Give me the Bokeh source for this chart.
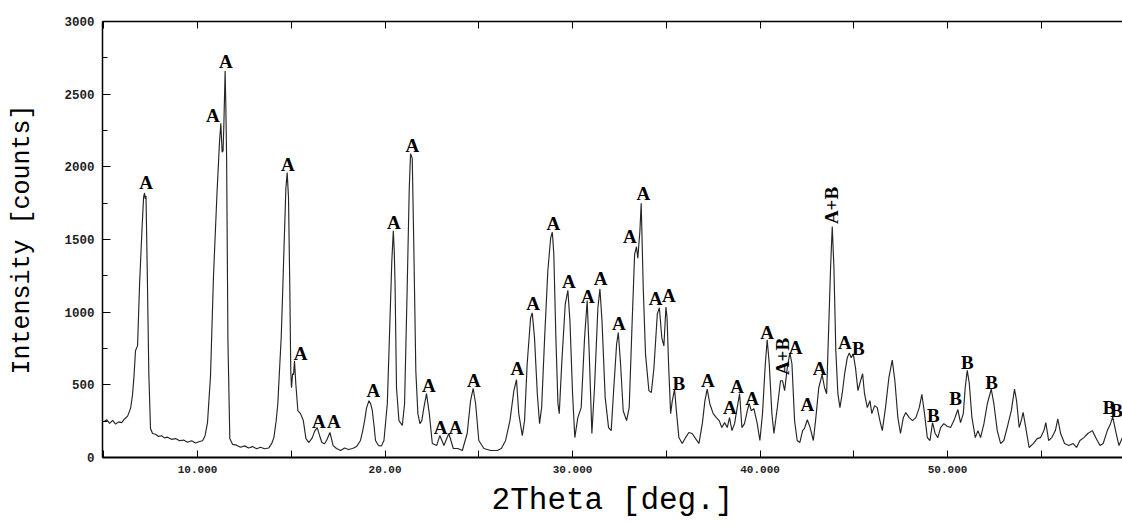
import math
from bokeh.plotting import figure
from bokeh.models import LinearAxis, FixedTicker, Range1d
from bokeh.embed import file_html
from bokeh.resources import INLINE
from bokeh.core.properties import value

# ---------------- data ----------------
two_theta = [
    4.99, 5.15, 5.31, 5.47, 5.63, 5.79, 5.95, 6.11, 6.27, 6.43, 6.53, 6.61, 6.69, 6.80, 6.91,
    7.04, 7.12, 7.17, 7.21, 7.25, 7.32, 7.40, 7.49, 7.60, 7.76, 7.92, 8.08, 8.24, 8.40, 8.61,
    8.83, 9.04, 9.25, 9.47, 9.68, 9.89, 10.11, 10.27, 10.40, 10.53, 10.69, 10.85, 11.04, 11.17,
    11.24, 11.31, 11.36, 11.40, 11.47, 11.51, 11.55, 11.62, 11.72, 11.87, 12.08, 12.29, 12.51,
    12.72, 12.93, 13.15, 13.36, 13.57, 13.79,
    13.95, 14.07, 14.19, 14.28, 14.37, 14.46, 14.53, 14.60, 14.71, 14.78, 14.85, 14.92, 14.97,
    15.01, 15.07, 15.12, 15.17, 15.24, 15.35, 15.49, 15.64, 15.78, 15.94, 16.12, 16.24, 16.38,
    16.51, 16.63, 16.77, 16.88, 17.06, 17.23, 17.41, 17.63, 17.84, 18.05, 18.27, 18.48, 18.69,
    18.80, 18.91, 19.01, 19.14, 19.23, 19.32, 19.41, 19.49, 19.65, 19.81,
    19.94, 20.12, 20.26, 20.36, 20.44, 20.49, 20.53, 20.61, 20.74, 20.92, 21.04, 21.18, 21.29,
    21.36, 21.45, 21.54, 21.64, 21.75, 21.86, 21.96, 22.07, 22.21, 22.36, 22.52, 22.75, 22.92,
    23.14, 23.40, 23.64, 23.88, 24.12, 24.38, 24.56, 24.70, 24.83, 25.00, 25.27, 25.63, 25.98,
    26.20, 26.43, 26.66, 26.87, 27.01, 27.13, 27.32,
    27.44, 27.58, 27.76, 27.85, 27.97, 28.12, 28.24, 28.35, 28.51, 28.68, 28.83, 28.92, 29.00,
    29.11, 29.22, 29.29, 29.43, 29.61, 29.75, 29.86, 30.00, 30.12, 30.28, 30.46, 30.64, 30.78,
    30.89, 31.03, 31.17, 31.35, 31.46, 31.57, 31.74, 31.92, 32.06, 32.20, 32.35, 32.44, 32.56,
    32.70, 32.88, 33.02, 33.18, 33.31, 33.41, 33.48, 33.59, 33.66, 33.77, 33.89, 34.07, 34.20,
    34.34, 34.52, 34.63, 34.76, 34.87, 34.98, 35.04,
    35.12, 35.23, 35.32, 35.44, 35.55, 35.67, 35.85, 36.03, 36.20, 36.38, 36.56, 36.74, 36.92,
    37.06, 37.18, 37.32, 37.50, 37.67, 37.82, 37.96, 38.11, 38.25, 38.37, 38.50, 38.64, 38.78,
    38.91, 39.03, 39.17, 39.32, 39.42, 39.53, 39.67, 39.85, 39.99, 40.13, 40.28, 40.38, 40.49,
    40.63, 40.74, 40.92, 41.09, 41.20, 41.31, 41.45, 41.59, 41.70, 41.84, 41.98, 42.12, 42.27,
    42.37, 42.52, 42.66, 42.84, 42.96, 43.13, 43.31, 43.44, 43.55, 43.65, 43.76, 43.85, 43.94,
    44.04, 44.15, 44.26, 44.38, 44.51, 44.65, 44.76, 44.86, 44.97, 45.09, 45.22, 45.36, 45.47,
    45.57, 45.72, 45.86, 45.96, 46.11, 46.25, 46.39, 46.52, 46.69, 46.87, 47.05, 47.19, 47.35,
    47.49, 47.64, 47.77, 47.96, 48.13, 48.31, 48.49, 48.63, 48.77, 48.92, 49.06, 49.20, 49.34,
    49.48, 49.63, 49.80, 49.98,
    50.16, 50.34, 50.55, 50.69, 50.84, 50.94, 51.05, 51.16, 51.30, 51.48, 51.62, 51.76, 51.94,
    52.12, 52.33, 52.47, 52.65, 52.83, 53.00, 53.18, 53.40, 53.57, 53.68, 53.82, 53.93, 54.03,
    54.17, 54.35, 54.57, 54.78, 54.96, 55.14, 55.24, 55.39, 55.56, 55.75, 55.88, 56.03, 56.24,
    56.47, 56.70, 56.88, 57.06, 57.27, 57.48, 57.72, 57.90, 58.13, 58.30, 58.52, 58.69, 58.81,
    58.96, 59.14, 59.33,
]
intensity = [
    245, 260, 235, 255, 230, 245, 240, 265, 285, 340, 430, 560, 735, 770, 1200,
    1580, 1790, 1820, 1780, 1800, 1260, 580, 200, 165, 160, 145, 150, 135, 140, 125,
    130, 115, 120, 105, 115, 100, 110, 115, 150, 240, 560, 1250, 1830, 2170,
    2300, 2100, 2110, 2280, 2660, 2400, 2050, 800, 130, 90, 85, 70, 80,
    65, 75, 60, 70, 60, 65,
    95, 137, 250, 370, 600, 823, 1100, 1400, 1850, 1960, 1790, 1166, 600,
    480, 576, 570, 665, 508, 322, 302, 254, 130, 103, 137, 180, 206,
    150, 103, 95, 117, 172, 82, 62, 48, 65, 55, 62, 75, 117,
    180, 254, 340, 391, 370, 322, 220, 117, 82, 80,
    117, 370, 940, 1351, 1560, 1420, 1214, 480, 254, 220, 370, 1166, 1852,
    2090, 2058, 1400, 597, 302, 233, 254, 343, 439, 302, 96, 82, 151,
    82, 165, 62, 62, 48, 165, 391, 475, 370, 117, 62, 48, 48,
    62, 117, 254, 460, 535, 302, 150,
    254, 645, 960, 995, 823, 439, 233, 343, 823, 1283, 1509, 1550, 1400,
    823, 370, 302, 665, 1056, 1150, 940, 439, 137, 274, 343, 823, 1080,
    713, 165, 480, 1029, 1160, 940, 412, 206, 185, 480, 782, 860, 645,
    322, 254, 343, 940, 1400, 1450, 1372, 1557, 1750, 1166, 713, 460, 446,
    617, 988, 1030, 823, 768, 1035, 960,
    645, 302, 391, 470, 302, 137, 96, 137, 172, 165, 130, 96, 233,
    391, 470, 370, 302, 274, 254, 206, 240, 206, 274, 185, 233, 343,
    439, 206, 233, 322, 370, 322, 336, 233, 117, 302, 645, 810, 645,
    302, 165, 343, 528, 528, 460, 617, 720, 645, 254, 117, 103, 185,
    200, 260, 210, 117, 254, 480, 570, 480, 439, 851, 1303, 1590, 1303,
    734, 439, 343, 439, 576, 686, 720, 686, 713, 617, 460, 528, 576,
    439, 343, 391, 302, 357, 343, 254, 185, 343, 549, 670, 528, 274,
    165, 274, 309, 274, 254, 274, 343, 435, 302, 137, 117, 240, 165,
    137, 206, 233, 215,
    206, 254, 330, 240, 302, 480, 600, 508, 274, 137, 185, 137, 233,
    370, 470, 370, 185, 96, 117, 206, 322, 470, 391, 206, 254, 310,
    206, 69, 96, 130, 137, 185, 240, 117, 137, 185, 265, 165, 96,
    82, 96, 69, 117, 137, 165, 185, 137, 82, 96, 185, 233, 280,
    185, 82, 137,
]

# tick values and labels
x_ticks = [10, 20, 30, 40, 50]
x_tick_labels = ["10.000", "20.00", "30.000", "40.000", "50.000"]
x_minor_ticks = [5, 15, 25, 35, 45, 55]
y_ticks = [0, 500, 1000, 1500, 2000, 2500, 3000]
y_minor_ticks = [250, 750, 1250, 1750, 2250, 2750]

# phase annotations (peak labels), in data units
peak_text = ["A", "A", "A", "A", "A", "A", "A", "A", "A", "A", "A", "A", "A", "A",
             "A", "A", "A", "A", "A", "A", "A", "A", "A", "A", "A", "B", "A", "A",
             "A", "A", "A", "A", "A", "A", "A", "B", "B", "B", "B", "B", "B", "B"]
peak_x = [7.26, 10.82, 11.51, 14.82, 15.49, 16.47, 17.27, 19.37, 20.47, 21.45, 22.34,
          22.96, 23.76, 24.74, 27.05, 27.90, 28.97, 29.80, 30.82, 31.49, 32.47, 33.06,
          33.77, 34.43, 35.14, 35.67, 37.22, 38.39, 38.78, 39.58, 40.38, 41.89, 42.52,
          43.17, 44.52, 45.24, 49.24, 50.43, 51.05, 52.35, 58.62, 59.02]
peak_y = [1894, 2353, 2724, 2016, 718, 250, 250, 461, 1619, 2147, 495,
          206, 206, 530, 612, 1062, 1610, 1213, 1108, 1232, 922, 1520,
          1816, 1094, 1115, 509, 530, 346, 488, 406, 862, 759, 365,
          612, 793, 750, 289, 406, 656, 518, 346, 323]
vert_text = ["A+B", "A+B"]
vert_x = [41.20, 43.81]
vert_y = [695, 1734]

# ---------------- figure ----------------
p = figure(width=1122, height=525, output_backend="svg", toolbar_location=None,
           x_range=Range1d(4.93, 59.33), y_range=Range1d(0, 3000),
           min_border_left=102, min_border_right=0, min_border_top=21,
           min_border_bottom=68,
           x_axis_label="2Theta [deg.]", y_axis_label="Intensity [counts]")
p.outline_line_color = None
p.grid.visible = False
p.background_fill_color = "white"
p.border_fill_color = "white"

p.line(two_theta, intensity, line_color="#262626", line_width=1.15)

p.text(x=peak_x, y=peak_y, text=peak_text, text_font=value("Liberation Serif"),
       text_font_style="bold", text_font_size="19px", text_align="center",
       text_baseline="middle", text_color="black")
p.text(x=vert_x, y=vert_y, text=vert_text, angle=math.pi / 2,
       text_font=value("Liberation Serif"), text_font_style="bold",
       text_font_size="19px", text_align="center", text_baseline="middle",
       text_color="black")

# bottom axis
xa = p.xaxis[0]
xa.ticker = FixedTicker(ticks=x_ticks, minor_ticks=x_minor_ticks)
xa.major_label_overrides = dict(zip(x_ticks, x_tick_labels))
xa.major_tick_in = 7
xa.major_tick_out = 0
xa.minor_tick_in = 7
xa.minor_tick_out = 0
xa.major_label_standoff = 8
xa.major_label_text_font = "Liberation Mono"
xa.major_label_text_font_style = "bold"
xa.major_label_text_font_size = "11px"
xa.major_label_text_color = "#222222"
xa.axis_label_text_font = "Liberation Mono"
xa.axis_label_text_font_style = "normal"
xa.axis_label_text_font_size = "31px"
xa.axis_label_text_color = "black"
xa.axis_label_standoff = 7
xa.axis_line_width = 2
xa.axis_line_color = "black"
xa.major_tick_line_color = "black"
xa.minor_tick_line_color = "black"

# top border with ticks
top = LinearAxis(ticker=FixedTicker(ticks=x_ticks, minor_ticks=x_minor_ticks),
                 major_label_overrides={t: "" for t in x_ticks},
                 major_label_text_font_size="0px", major_label_standoff=0,
                 major_tick_in=7, major_tick_out=0, minor_tick_in=7, minor_tick_out=0,
                 axis_line_width=1.5, axis_line_color="black")
p.add_layout(top, "above")

# left axis
ya = p.yaxis[0]
ya.ticker = FixedTicker(ticks=y_ticks, minor_ticks=y_minor_ticks)
ya.major_tick_in = 8
ya.major_tick_out = 0
ya.minor_tick_in = 5
ya.minor_tick_out = 0
ya.major_label_standoff = 8
ya.major_label_text_font = "Liberation Mono"
ya.major_label_text_font_style = "bold"
ya.major_label_text_font_size = "12.5px"
ya.major_label_text_color = "#222222"
ya.axis_label_text_font = "Liberation Mono"
ya.axis_label_text_font_style = "normal"
ya.axis_label_text_font_size = "25px"
ya.axis_label_text_color = "black"
ya.axis_label_standoff = 24
ya.axis_line_width = 1.5
ya.axis_line_color = "black"

open("out.html", "w").write(file_html(p, INLINE))
